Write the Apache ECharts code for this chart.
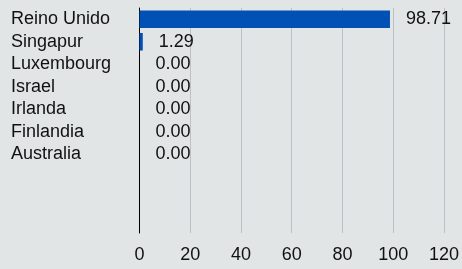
<!DOCTYPE html>
<html>
<head>
<meta charset="utf-8">
<script src="https://cdn.jsdelivr.net/npm/echarts@6/dist/echarts.min.js"></script>
<style>
html,body{margin:0;padding:0;background:#e1e5e5;}
#c{width:462px;height:269px;}
</style>
</head>
<body>
<div id="c"></div>
<script>
var categories = ['Reino Unido','Singapur','Luxembourg','Israel','Irlanda','Finlandia','Australia','','',''];
var values = [98.71, 1.29, 0.00, 0.00, 0.00, 0.00, 0.00, '-', '-', '-'];
var xTicks = [0, 20, 40, 60, 80, 100, 120];

var chart = echarts.init(document.getElementById('c'), null, {renderer:'canvas'});
var font = '"Liberation Sans", Arial, sans-serif';
chart.setOption({
  backgroundColor: '#e1e5e5',
  animation: false,
  grid: {left: 139.5, right: 16, top: 8, bottom: 36, containLabel: false},
  xAxis: {
    type: 'value',
    min: xTicks[0], max: xTicks[xTicks.length-1], interval: 20,
    axisLine: {show: false},
    axisTick: {show: false},
    axisLabel: {color: '#111', fontSize: 18, fontFamily: font, margin: 13},
    splitLine: {show: true, lineStyle: {color: '#bcc1c5', width: 1}}
  },
  yAxis: {
    type: 'category',
    inverse: true,
    data: categories,
    axisLine: {show: true, lineStyle: {color: '#000', width: 1}},
    axisTick: {show: false},
    axisLabel: {color: '#111', fontSize: 18, fontFamily: font, align: 'left', margin: 128.5, interval: 0, hideOverlap: false},
    splitLine: {show: false}
  },
  series: [{
    type: 'bar',
    data: values,
    barCategoryGap: '22%',
    itemStyle: {color: '#0050b5'},
    label: {
      show: true,
      position: 'right',
      distance: 16,
      color: '#111',
      fontSize: 18,
      fontFamily: font,
      formatter: function(p){ return Number(p.value).toFixed(2); }
    }
  }]
});
</script>
</body>
</html>
